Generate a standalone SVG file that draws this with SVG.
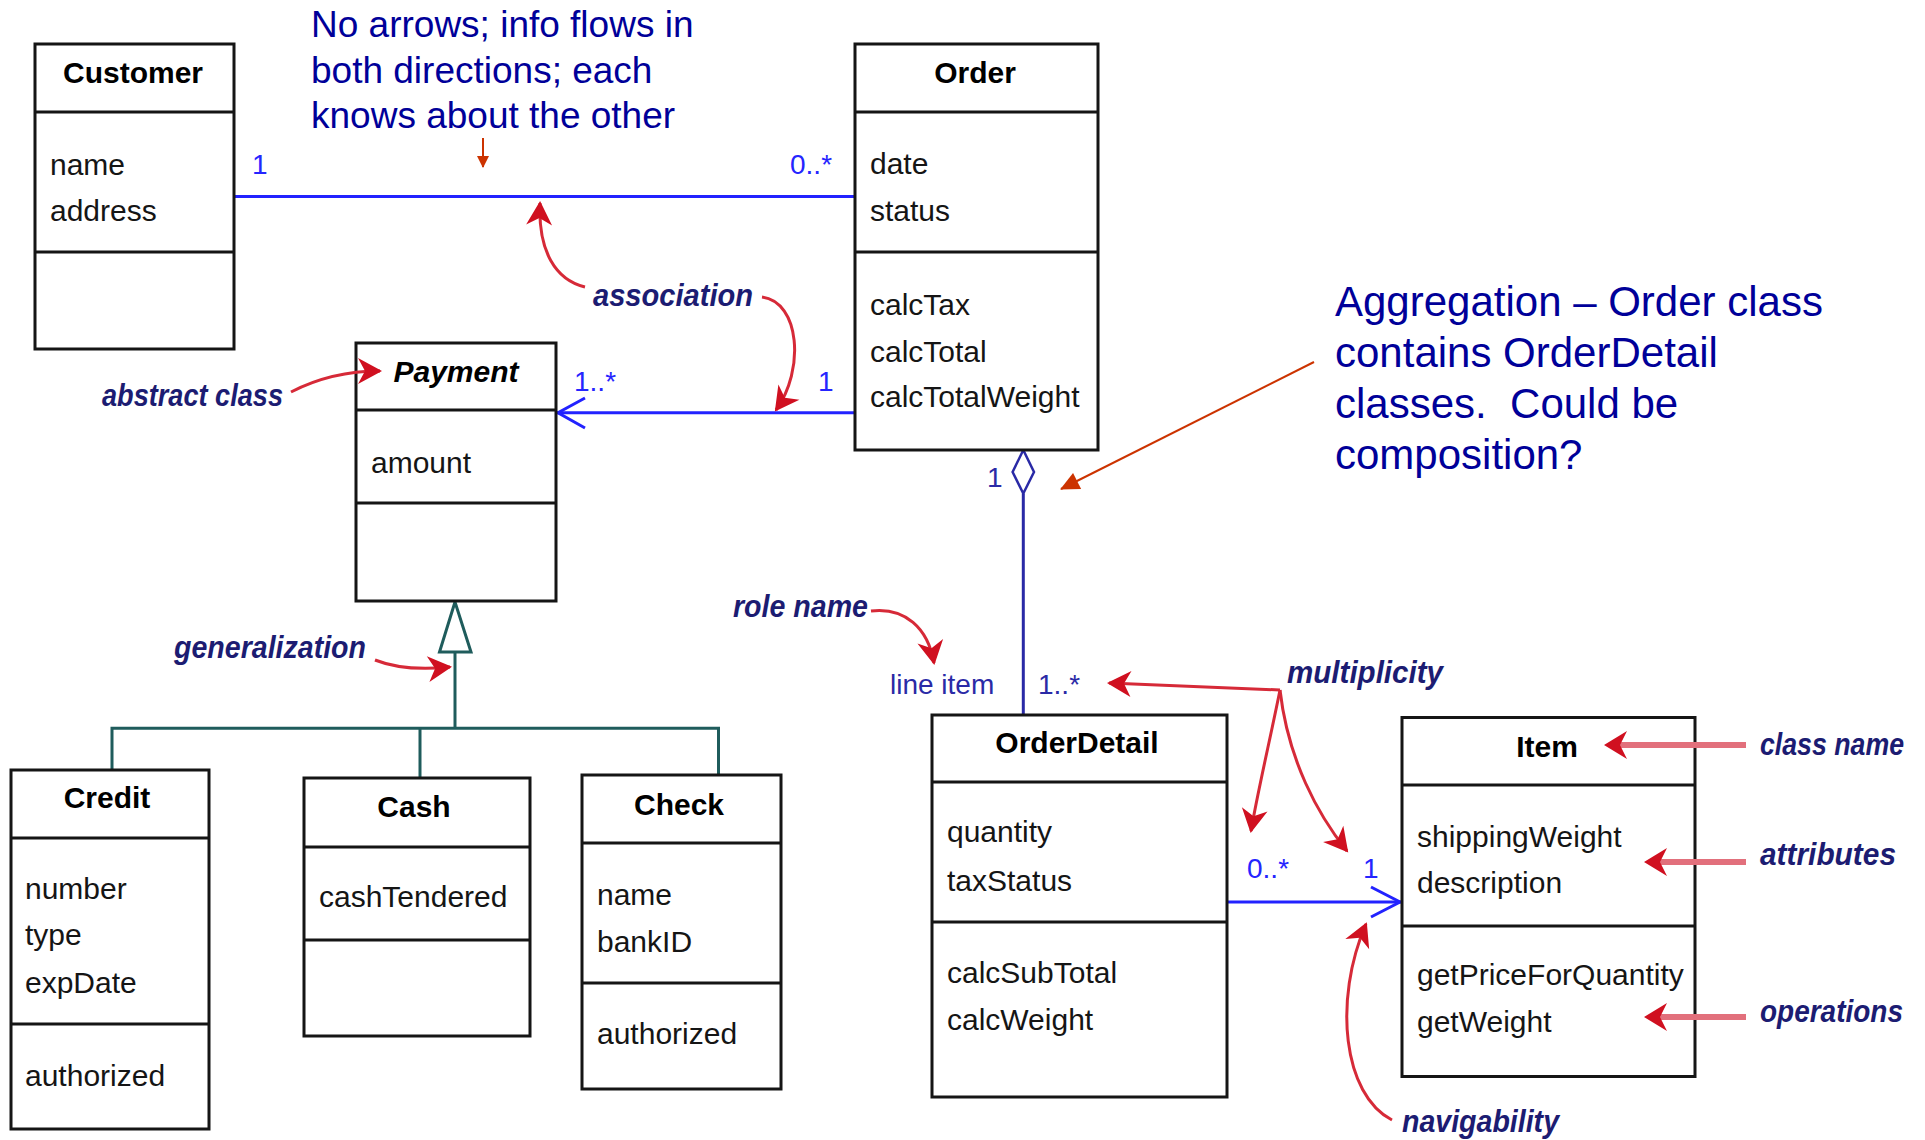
<svg xmlns="http://www.w3.org/2000/svg" width="1925" height="1140" viewBox="0 0 1925 1140">
<defs>
<style>
.box{fill:#fff;stroke:#151515;stroke-width:3}
.sep{stroke:#151515;stroke-width:3}
.title{font-family:"Liberation Sans",Arial,sans-serif;font-weight:bold;font-size:30px;fill:#000;text-anchor:middle}
.attr{font-family:"Liberation Sans",Arial,sans-serif;font-size:30px;fill:#151515}
.mult{font-family:"Liberation Sans",Arial,sans-serif;font-size:28px;fill:#2525ff}
.multd{font-family:"Liberation Sans",Arial,sans-serif;font-size:28px;fill:#2a2aa6}
.note{font-family:"Liberation Sans",Arial,sans-serif;font-size:37px;fill:#000099}
.note2{font-family:"Liberation Sans",Arial,sans-serif;font-size:42px;fill:#000099;white-space:pre}
.ann{font-family:"Liberation Sans",Arial,sans-serif;font-weight:bold;font-style:italic;font-size:31px;fill:#1c1c72}
.assoc{stroke:#2222ff;stroke-width:3;fill:none}
.agg{stroke:#2a2aa6;stroke-width:3;fill:none}
.gen{stroke:#1f5c5c;stroke-width:3;fill:none}
.red{stroke:#d62a38;stroke-width:3;fill:none;marker-end:url(#rh)}
.pink{stroke:#e2707c;stroke-width:6;fill:none}
.head{fill:#d01020}
.orange{stroke:#cc3300;stroke-width:2;fill:none}
</style>
<marker id="rh" viewBox="-26 -16 32 32" markerWidth="32" markerHeight="32" refX="0" refY="0" orient="auto" markerUnits="userSpaceOnUse">
<path d="M2,0 L-22,-13 L-15,0 L-22,13 Z" fill="#d01020"/>
</marker>
<marker id="oh" viewBox="-14 -8 16 16" markerWidth="16" markerHeight="16" refX="0" refY="0" orient="auto" markerUnits="userSpaceOnUse">
<path d="M1,0 L-11,-6 L-11,6 Z" fill="#cc3300"/>
</marker>
<marker id="ohb" viewBox="-22 -12 24 24" markerWidth="24" markerHeight="24" refX="0" refY="0" orient="auto" markerUnits="userSpaceOnUse">
<path d="M1,0 L-18,-9 L-18,9 Z" fill="#cc3300"/>
</marker>
</defs>
<rect width="1925" height="1140" fill="#fff"/>

<g id="connectors">
<line class="assoc" x1="234" y1="196.5" x2="855" y2="196.5"/>
<line class="assoc" x1="557" y1="412.7" x2="855" y2="412.7"/>
<polyline class="assoc" points="585,398 558,412.7 585,428"/>
<line class="assoc" x1="1227" y1="902" x2="1401" y2="902"/>
<polyline class="assoc" points="1371,887 1400,902 1371,917"/>
<line class="agg" x1="1023.3" y1="493.5" x2="1023.3" y2="715"/>
<polygon points="1023.3,450 1034,472 1023.3,493.5 1012.6,472" fill="#fff" stroke="#2a2aa6" stroke-width="2.5"/>
<polygon class="gen" points="455,602 439.5,652 471,652" fill="#fff"/>
<line class="gen" x1="455" y1="652" x2="455" y2="728.3"/>
<polyline class="gen" points="112,770 112,728.3 718.5,728.3 718.5,775"/>
<line class="gen" x1="420" y1="728.3" x2="420" y2="778"/>
</g>

<g id="Customer">
<rect class="box" x="35" y="44" width="199" height="305"/>
<line class="sep" x1="35" y1="112" x2="234" y2="112"/>
<line class="sep" x1="35" y1="252" x2="234" y2="252"/>
<text class="title" x="133" y="83">Customer</text>
<text class="attr" x="50" y="175">name</text>
<text class="attr" x="50" y="221">address</text>
</g>

<g id="Order">
<rect class="box" x="855" y="44" width="243" height="406"/>
<line class="sep" x1="855" y1="112" x2="1098" y2="112"/>
<line class="sep" x1="855" y1="252" x2="1098" y2="252"/>
<text class="title" x="975" y="83">Order</text>
<text class="attr" x="870" y="174">date</text>
<text class="attr" x="870" y="221">status</text>
<text class="attr" x="870" y="315">calcTax</text>
<text class="attr" x="870" y="362">calcTotal</text>
<text class="attr" x="870" y="407">calcTotalWeight</text>
</g>

<g id="Payment">
<rect class="box" x="356" y="343" width="200" height="258"/>
<line class="sep" x1="356" y1="410" x2="556" y2="410"/>
<line class="sep" x1="356" y1="503" x2="556" y2="503"/>
<text class="title" x="456" y="382" font-style="italic">Payment</text>
<text class="attr" x="371" y="473">amount</text>
</g>

<g id="Credit">
<rect class="box" x="11" y="770" width="198" height="359"/>
<line class="sep" x1="11" y1="838" x2="209" y2="838"/>
<line class="sep" x1="11" y1="1024" x2="209" y2="1024"/>
<text class="title" x="107" y="808">Credit</text>
<text class="attr" x="25" y="899">number</text>
<text class="attr" x="25" y="945">type</text>
<text class="attr" x="25" y="993">expDate</text>
<text class="attr" x="25" y="1086">authorized</text>
</g>

<g id="Cash">
<rect class="box" x="304" y="778" width="226" height="258"/>
<line class="sep" x1="304" y1="847" x2="530" y2="847"/>
<line class="sep" x1="304" y1="940" x2="530" y2="940"/>
<text class="title" x="414" y="817">Cash</text>
<text class="attr" x="319" y="907">cashTendered</text>
</g>

<g id="Check">
<rect class="box" x="582" y="775" width="199" height="314"/>
<line class="sep" x1="582" y1="843" x2="781" y2="843"/>
<line class="sep" x1="582" y1="983" x2="781" y2="983"/>
<text class="title" x="679" y="815">Check</text>
<text class="attr" x="597" y="905">name</text>
<text class="attr" x="597" y="952">bankID</text>
<text class="attr" x="597" y="1044">authorized</text>
</g>

<g id="OrderDetail">
<rect class="box" x="932" y="715" width="295" height="382"/>
<line class="sep" x1="932" y1="782" x2="1227" y2="782"/>
<line class="sep" x1="932" y1="922" x2="1227" y2="922"/>
<text class="title" x="1077" y="753">OrderDetail</text>
<text class="attr" x="947" y="842">quantity</text>
<text class="attr" x="947" y="891">taxStatus</text>
<text class="attr" x="947" y="983">calcSubTotal</text>
<text class="attr" x="947" y="1030">calcWeight</text>
</g>

<g id="Item">
<rect class="box" x="1402" y="717.5" width="293" height="359"/>
<line class="sep" x1="1402" y1="785" x2="1695" y2="785"/>
<line class="sep" x1="1402" y1="926" x2="1695" y2="926"/>
<text class="title" x="1547" y="757">Item</text>
<text class="attr" x="1417" y="847">shippingWeight</text>
<text class="attr" x="1417" y="893">description</text>
<text class="attr" x="1417" y="985">getPriceForQuantity</text>
<text class="attr" x="1417" y="1032">getWeight</text>
</g>

<g id="labels">
<text class="mult" x="252" y="174">1</text>
<text class="mult" x="790" y="174">0..*</text>
<text class="mult" x="574" y="391">1..*</text>
<text class="mult" x="818" y="391">1</text>
<text class="multd" x="987" y="487">1</text>
<text class="multd" x="890" y="694">line item</text>
<text class="multd" x="1038" y="694">1..*</text>
<text class="mult" x="1247" y="878">0..*</text>
<text class="mult" x="1363" y="878">1</text>
</g>

<g id="note-association-top">
<text class="note" x="311" y="37">No arrows; info flows in</text>
<text class="note" x="311" y="83">both directions; each</text>
<text class="note" x="311" y="128">knows about the other</text>
<line class="orange" x1="483" y1="138" x2="483" y2="167" marker-end="url(#oh)"/>
</g>

<g id="note-aggregation">
<text class="note2" x="1335" y="316">Aggregation – Order class</text>
<text class="note2" x="1335" y="367">contains OrderDetail</text>
<text class="note2" x="1335" y="418" xml:space="preserve">classes.  Could be</text>
<text class="note2" x="1335" y="469">composition?</text>
<line class="orange" x1="1314" y1="362" x2="1061" y2="489" marker-end="url(#ohb)"/>
</g>

<g id="annotations">
<text class="ann" x="102" y="406" textLength="181" lengthAdjust="spacingAndGlyphs">abstract class</text>
<path class="red" d="M291,392 C318,378 345,371 380,371"/>
<text class="ann" x="593" y="306" textLength="160" lengthAdjust="spacingAndGlyphs">association</text>
<path class="red" d="M585,287 C556,280 538,252 540,203"/>
<path class="red" d="M762,297 C800,302 805,370 776,410"/>
<text class="ann" x="174" y="658" textLength="192" lengthAdjust="spacingAndGlyphs">generalization</text>
<path class="red" d="M375,660 C395,668 420,670 450,667"/>
<text class="ann" x="733" y="617" textLength="135" lengthAdjust="spacingAndGlyphs">role name</text>
<path class="red" d="M871,611 C905,607 928,628 934,663"/>
<text class="ann" x="1287" y="683" textLength="156" lengthAdjust="spacingAndGlyphs">multiplicity</text>
<path class="red" d="M1280,690 L1109,683"/>
<path class="red" d="M1280,690 C1270,740 1258,790 1251,831"/>
<path class="red" d="M1280,690 C1288,760 1318,815 1347,851"/>
<text class="ann" x="1402" y="1132" textLength="157" lengthAdjust="spacingAndGlyphs">navigability</text>
<path class="red" d="M1392,1120 C1343,1095 1333,1000 1366,924"/>
<text class="ann" x="1760" y="755" textLength="144" lengthAdjust="spacingAndGlyphs">class name</text>
<line class="pink" x1="1746" y1="745" x2="1618" y2="745"/>
<path class="head" d="M1604,745 L1627,731 L1620,745 L1627,759 Z"/>
<text class="ann" x="1760" y="865" textLength="136" lengthAdjust="spacingAndGlyphs">attributes</text>
<line class="pink" x1="1746" y1="862" x2="1658" y2="862"/>
<path class="head" d="M1644,862 L1667,848 L1660,862 L1667,876 Z"/>
<text class="ann" x="1760" y="1022" textLength="143" lengthAdjust="spacingAndGlyphs">operations</text>
<line class="pink" x1="1746" y1="1017" x2="1658" y2="1017"/>
<path class="head" d="M1644,1017 L1667,1003 L1660,1017 L1667,1031 Z"/>
</g>
</svg>
